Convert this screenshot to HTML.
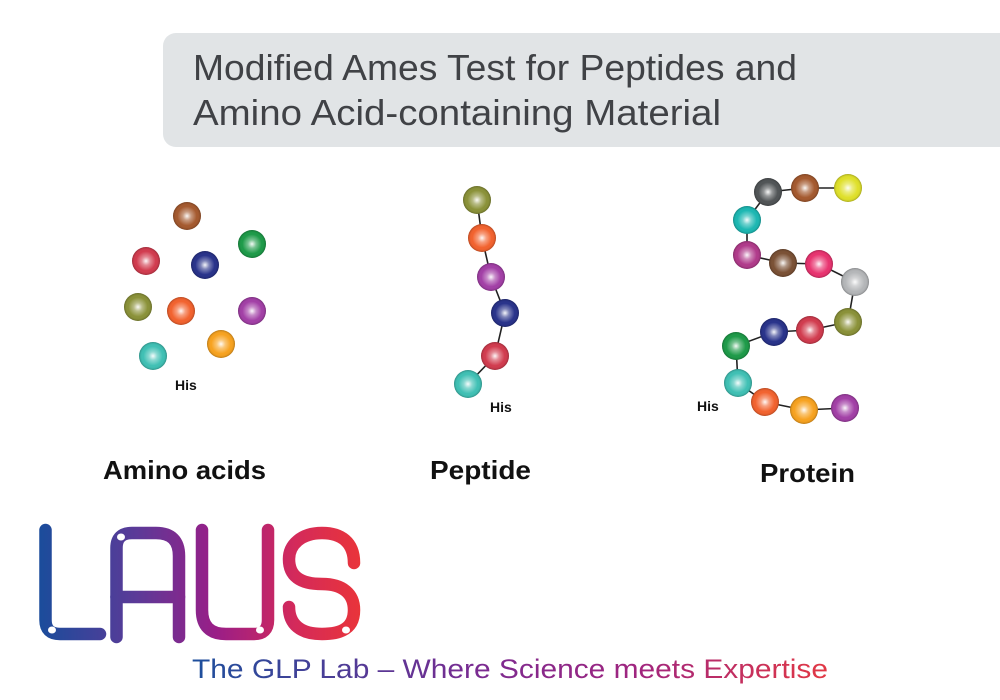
<!DOCTYPE html>
<html><head><meta charset="utf-8"><style>
html,body{margin:0;padding:0;background:#fff;}
svg{display:block;}
</style></head><body>
<svg width="1000" height="700" viewBox="0 0 1000 700" xmlns="http://www.w3.org/2000/svg">
<defs>
<radialGradient id="hi" cx="0.5" cy="0.5" r="0.5">
<stop offset="0" stop-color="#fff" stop-opacity="0.95"/>
<stop offset="0.3" stop-color="#fff" stop-opacity="0.4"/>
<stop offset="0.7" stop-color="#fff" stop-opacity="0"/>
<stop offset="0.88" stop-color="#000" stop-opacity="0.05"/>
<stop offset="1" stop-color="#000" stop-opacity="0.25"/>
</radialGradient>
<linearGradient id="lg" x1="40" y1="0" x2="360" y2="0" gradientUnits="userSpaceOnUse">
<stop offset="0" stop-color="#1b4c9b"/>
<stop offset="0.3" stop-color="#5b3a98"/>
<stop offset="0.55" stop-color="#9a1e87"/>
<stop offset="0.8" stop-color="#d42a5a"/>
<stop offset="1" stop-color="#e9343a"/>
</linearGradient>
<linearGradient id="tg" x1="192" y1="0" x2="828" y2="0" gradientUnits="userSpaceOnUse">
<stop offset="0" stop-color="#1d4f9c"/>
<stop offset="0.45" stop-color="#7a2b91"/>
<stop offset="0.7" stop-color="#a0257f"/>
<stop offset="1" stop-color="#e23844"/>
</linearGradient>
</defs>

<rect x="163" y="33" width="860" height="114" rx="13" fill="#e1e4e6"/>
<text x="193" y="80" font-family="Liberation Sans, sans-serif" font-size="36" fill="#404246" textLength="604" lengthAdjust="spacingAndGlyphs">Modified Ames Test for Peptides and</text>
<text x="193" y="125" font-family="Liberation Sans, sans-serif" font-size="36" fill="#404246" textLength="528" lengthAdjust="spacingAndGlyphs">Amino Acid-containing Material</text>

<g stroke="#222" stroke-width="1.6" fill="none">
<polyline points="477,200 482,238 491,277 505,313 495,356 468,384"/>
<polyline points="848,188 805,188 768,192 747,220 747,255 783,263 819,264 855,282 848,322 810,330 774,332 736,346 738,383 765,402 804,410 845,408"/>
</g>

<g id="balls">
<circle cx="187" cy="216" r="14" fill="#a4592e"/>
<circle cx="252" cy="244" r="14" fill="#1d9a48"/>
<circle cx="146" cy="261" r="14" fill="#d13b4e"/>
<circle cx="205" cy="265" r="14" fill="#28328a"/>
<circle cx="138" cy="307" r="14" fill="#8a9138"/>
<circle cx="181" cy="311" r="14" fill="#f2622e"/>
<circle cx="252" cy="311" r="14" fill="#a23fa6"/>
<circle cx="221" cy="344" r="14" fill="#f7a21f"/>
<circle cx="153" cy="356" r="14" fill="#3fc0b4"/>

<circle cx="477" cy="200" r="14" fill="#8a9138"/>
<circle cx="482" cy="238" r="14" fill="#f2622e"/>
<circle cx="491" cy="277" r="14" fill="#a23fa6"/>
<circle cx="505" cy="313" r="14" fill="#28328a"/>
<circle cx="495" cy="356" r="14" fill="#d13b4e"/>
<circle cx="468" cy="384" r="14" fill="#3fc0b4"/>

<circle cx="768" cy="192" r="14" fill="#505456"/>
<circle cx="805" cy="188" r="14" fill="#a4592e"/>
<circle cx="848" cy="188" r="14" fill="#dfe02a"/>
<circle cx="747" cy="220" r="14" fill="#1cb7b2"/>
<circle cx="747" cy="255" r="14" fill="#b03a8a"/>
<circle cx="783" cy="263" r="14" fill="#7a5034"/>
<circle cx="819" cy="264" r="14" fill="#e8336f"/>
<circle cx="855" cy="282" r="14" fill="#b4b6b8"/>
<circle cx="848" cy="322" r="14" fill="#8a9138"/>
<circle cx="810" cy="330" r="14" fill="#d13b4e"/>
<circle cx="774" cy="332" r="14" fill="#28328a"/>
<circle cx="736" cy="346" r="14" fill="#1d9a48"/>
<circle cx="738" cy="383" r="14" fill="#3fc0b4"/>
<circle cx="765" cy="402" r="14" fill="#f2622e"/>
<circle cx="804" cy="410" r="14" fill="#f7a21f"/>
<circle cx="845" cy="408" r="14" fill="#a23fa6"/>
</g>
<g fill="url(#hi)">
<circle cx="187" cy="216" r="14"/><circle cx="252" cy="244" r="14"/><circle cx="146" cy="261" r="14"/><circle cx="205" cy="265" r="14"/><circle cx="138" cy="307" r="14"/><circle cx="181" cy="311" r="14"/><circle cx="252" cy="311" r="14"/><circle cx="221" cy="344" r="14"/><circle cx="153" cy="356" r="14"/>
<circle cx="477" cy="200" r="14"/><circle cx="482" cy="238" r="14"/><circle cx="491" cy="277" r="14"/><circle cx="505" cy="313" r="14"/><circle cx="495" cy="356" r="14"/><circle cx="468" cy="384" r="14"/>
<circle cx="768" cy="192" r="14"/><circle cx="805" cy="188" r="14"/><circle cx="848" cy="188" r="14"/><circle cx="747" cy="220" r="14"/><circle cx="747" cy="255" r="14"/><circle cx="783" cy="263" r="14"/><circle cx="819" cy="264" r="14"/><circle cx="855" cy="282" r="14"/><circle cx="848" cy="322" r="14"/><circle cx="810" cy="330" r="14"/><circle cx="774" cy="332" r="14"/><circle cx="736" cy="346" r="14"/><circle cx="738" cy="383" r="14"/><circle cx="765" cy="402" r="14"/><circle cx="804" cy="410" r="14"/><circle cx="845" cy="408" r="14"/>
</g>

<g font-family="Liberation Sans, sans-serif" font-weight="bold" fill="#111">
<text x="175" y="390" font-size="14">His</text>
<text x="490" y="412" font-size="14">His</text>
<text x="697" y="411" font-size="14">His</text>
<text x="103" y="479" font-size="26" textLength="163" lengthAdjust="spacingAndGlyphs">Amino acids</text>
<text x="430" y="479" font-size="26" textLength="101" lengthAdjust="spacingAndGlyphs">Peptide</text>
<text x="760" y="482" font-size="26" textLength="95" lengthAdjust="spacingAndGlyphs">Protein</text>
</g>

<g stroke="url(#lg)" stroke-width="12.5" fill="none" stroke-linecap="round">
<path d="M45.5,530 V620 Q45.5,634 60,634 H100"/>
<path d="M116.5,637 V548 Q116.5,533 132,533 H156 Q179,533 179,556 V637"/>
<path d="M116.5,597 H179"/>
<path d="M202,530 V610 Q202,634 226,634 H254 Q268,634 268,620 V530"/>
<path d="M354,563 C354,542 341,533 322,533 C301,533 289,545 289,559 C289,576 300,584 322,584 C343,584 354,594 354,610 C354,627 343,634 322,634 C300,634 289,624 289,607"/>
</g>
<g fill="#fff">
<ellipse cx="52" cy="630" rx="4" ry="3.5"/>
<ellipse cx="121" cy="537" rx="4" ry="3.5"/>
<ellipse cx="260" cy="630" rx="4" ry="3.5"/>
<ellipse cx="346" cy="630" rx="4" ry="3.5"/>
</g>

<text x="192" y="678" font-family="Liberation Sans, sans-serif" font-size="27" fill="url(#tg)" textLength="636" lengthAdjust="spacingAndGlyphs">The GLP Lab – Where Science meets Expertise</text>
</svg>
</body></html>
